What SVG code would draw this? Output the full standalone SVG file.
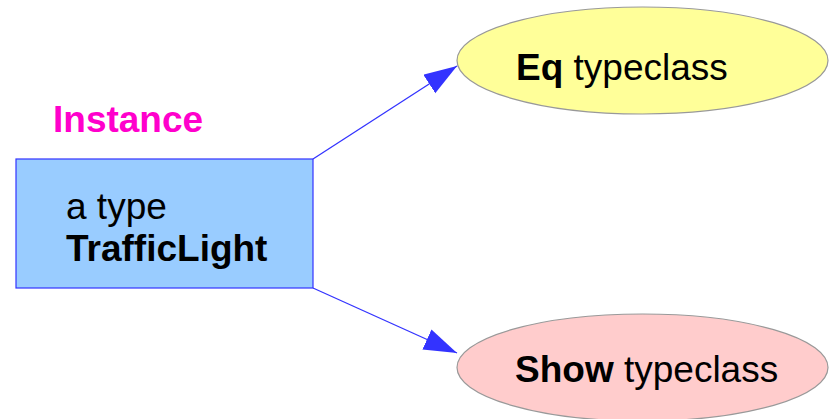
<svg xmlns="http://www.w3.org/2000/svg" width="830" height="419" viewBox="0 0 830 419">
<style>
text{font-family:"Liberation Sans",Arial,sans-serif;font-size:37px;fill:#000}
.b{font-weight:bold}
.conn{stroke:#3333ff;stroke-width:1.3;fill:none}
</style>
<defs>
<marker id="ah" markerUnits="userSpaceOnUse" markerWidth="34" markerHeight="24" refX="33" refY="11" orient="auto">
<path d="M0,0 L33,11 L0,22 z" fill="#3333ff"/>
</marker>
</defs>
<rect width="830" height="419" fill="#fff"/>
<g id="connectors">
<line class="conn" x1="313" y1="159" x2="457" y2="66" marker-end="url(#ah)"/>
<line class="conn" x1="313" y1="288" x2="457" y2="353" marker-end="url(#ah)"/>
</g>
<g id="instance-label">
<text x="53" y="132" class="b" style="fill:#ff00cc">Instance</text>
</g>
<g id="traffic-light">
<rect x="16" y="159" width="297" height="129" fill="#99ccff" stroke="#3333ff" stroke-width="1.2"/>
<text x="66" y="219">a type</text>
<text x="66" y="261" class="b">TrafficLight</text>
</g>
<g id="eq">
<ellipse cx="642.5" cy="60.5" rx="185.5" ry="53.5" fill="#ffff99" stroke="#999" stroke-width="1.2"/>
<text x="516" y="80"><tspan class="b">Eq</tspan> typeclass</text>
</g>
<g id="show">
<ellipse cx="642.5" cy="367.5" rx="185.5" ry="53.5" fill="#ffcccc" stroke="#999" stroke-width="1.2"/>
<text x="515" y="382"><tspan class="b">Show</tspan> typeclass</text>
</g>
</svg>
